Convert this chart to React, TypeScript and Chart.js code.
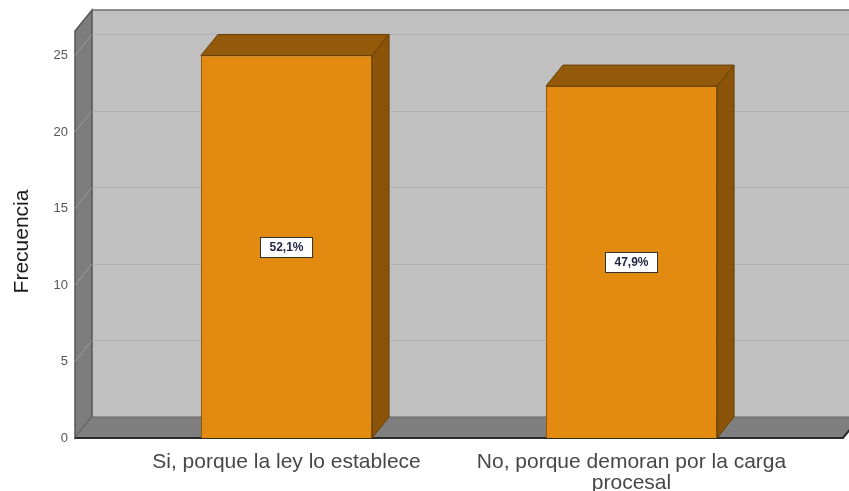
import React, { useEffect, useRef } from "react";
import { Chart, registerables } from "chart.js";

Chart.register(...registerables);

const categories: (string | string[])[] = [
  "Si, porque la ley lo establece",
  ["No, porque demoran por la carga", "procesal"],
];
const frequencies: number[] = [25, 23];
const yTicks: number[] = [0, 5, 10, 15, 20, 25];
const yMax = 26.6;
const yTitle = "Frecuencia";

const DX = 17;
const DY = 21;
const SIDE = 39;

const frame3d = {
  id: "frame3d",
  beforeDatasetsDraw(chart: any) {
    const { ctx, chartArea: ca, scales } = chart;
    const y = scales.y;
    const fl = ca.left - SIDE;
    const fr = ca.right + SIDE;
    const ft = ca.top;
    const fb = ca.bottom;
    ctx.save();
    ctx.fillStyle = "#c0c0c0";
    ctx.fillRect(fl + DX, ft - DY, fr - fl, fb - ft);
    ctx.strokeStyle = "#b2b2b2";
    ctx.lineWidth = 1;
    yTicks.forEach((v) => {
      if (v === 0) return;
      const py = Math.round(y.getPixelForValue(v) - DY) + 0.5;
      ctx.beginPath();
      ctx.moveTo(fl + DX, py);
      ctx.lineTo(fr + DX, py);
      ctx.stroke();
    });
    ctx.strokeStyle = "#6e6e6e";
    ctx.lineWidth = 1.5;
    ctx.beginPath();
    ctx.moveTo(fl + DX, ft - DY);
    ctx.lineTo(fr + DX, ft - DY);
    ctx.stroke();
    ctx.fillStyle = "#7c7c7c";
    ctx.beginPath();
    ctx.moveTo(fl, ft);
    ctx.lineTo(fl + DX, ft - DY);
    ctx.lineTo(fl + DX, fb - DY);
    ctx.lineTo(fl, fb);
    ctx.closePath();
    ctx.fill();
    ctx.strokeStyle = "#555555";
    ctx.lineWidth = 1.5;
    ctx.stroke();
    ctx.strokeStyle = "#9c9c9c";
    ctx.lineWidth = 1;
    yTicks.forEach((v) => {
      if (v === 0) return;
      const py = y.getPixelForValue(v);
      ctx.beginPath();
      ctx.moveTo(fl, py);
      ctx.lineTo(fl + DX, py - DY);
      ctx.stroke();
    });
    ctx.fillStyle = "#7f7f7f";
    ctx.beginPath();
    ctx.moveTo(fl, fb);
    ctx.lineTo(fl + DX, fb - DY);
    ctx.lineTo(fr + DX, fb - DY);
    ctx.lineTo(fr, fb);
    ctx.closePath();
    ctx.fill();
    ctx.strokeStyle = "#666666";
    ctx.lineWidth = 1;
    ctx.beginPath();
    ctx.moveTo(fl + DX, fb - DY);
    ctx.lineTo(fr + DX, fb - DY);
    ctx.stroke();
    ctx.strokeStyle = "#2a2a2a";
    ctx.lineWidth = 2;
    ctx.beginPath();
    ctx.moveTo(fl, fb);
    ctx.lineTo(fr, fb);
    ctx.lineTo(fr + DX, fb - DY);
    ctx.stroke();
    ctx.restore();
  },
  afterDatasetsDraw(chart: any) {
    const { ctx } = chart;
    const meta = chart.getDatasetMeta(0);
    const total = frequencies.reduce((a, b) => a + b, 0);
    ctx.save();
    meta.data.forEach((bar: any, i: number) => {
      const { x, y, base, width } = bar.getProps(["x", "y", "base", "width"], true);
      const l = x - width / 2;
      const r = x + width / 2;
      ctx.fillStyle = "#925a0a";
      ctx.strokeStyle = "#6a4005";
      ctx.lineWidth = 1;
      ctx.beginPath();
      ctx.moveTo(l, y);
      ctx.lineTo(l + DX, y - DY);
      ctx.lineTo(r + DX, y - DY);
      ctx.lineTo(r, y);
      ctx.closePath();
      ctx.fill();
      ctx.stroke();
      ctx.fillStyle = "#8a5308";
      ctx.beginPath();
      ctx.moveTo(r, y);
      ctx.lineTo(r + DX, y - DY);
      ctx.lineTo(r + DX, base - DY);
      ctx.lineTo(r, base);
      ctx.closePath();
      ctx.fill();
      ctx.stroke();
      const pct = ((frequencies[i] / total) * 100).toFixed(1).replace(".", ",") + "%";
      ctx.font = "bold 12px 'Liberation Sans', Arial, sans-serif";
      const tw = ctx.measureText(pct).width;
      const bw = tw + 18;
      const bh = 20;
      const cy = (y + base) / 2;
      const bx = Math.round(x - bw / 2) + 0.5;
      const by = Math.round(cy - bh / 2) + 0.5;
      ctx.fillStyle = "#ffffff";
      ctx.fillRect(bx, by, bw, bh);
      ctx.strokeStyle = "#333333";
      ctx.lineWidth = 1;
      ctx.strokeRect(bx, by, bw, bh);
      ctx.fillStyle = "#1e2540";
      ctx.textAlign = "center";
      ctx.textBaseline = "middle";
      ctx.fillText(pct, x, cy + 0.5);
    });
    ctx.restore();
  },
  afterDraw(chart: any) {
    const { ctx, chartArea: ca } = chart;
    ctx.save();
    ctx.translate(22, (ca.top + ca.bottom) / 2 + 7);
    ctx.rotate(-Math.PI / 2);
    ctx.font = "21px 'Liberation Sans', Arial, sans-serif";
    ctx.fillStyle = "#1a1a1a";
    ctx.textAlign = "center";
    ctx.textBaseline = "middle";
    ctx.fillText(yTitle, 0, 0);
    ctx.restore();
  },
};

export default function App() {
  const ref = useRef<HTMLCanvasElement | null>(null);
  useEffect(() => {
    if (!ref.current) return;
    const chart = new Chart(ref.current, {
      type: "bar",
      data: {
        labels: categories,
        datasets: [
          {
            data: frequencies,
            backgroundColor: "#e38b10",
            borderColor: "#8a5308",
            borderWidth: 1,
            barPercentage: 0.496,
            categoryPercentage: 1,
          },
        ],
      },
      options: {
        animation: false,
        responsive: false,
        maintainAspectRatio: false,
        layout: { padding: { top: 31, right: 45, left: 0, bottom: 0 } },
        plugins: { legend: { display: false }, tooltip: { enabled: false } },
        scales: {
          x: {
            offset: true,
            grid: { display: false, drawTicks: false },
            border: { display: false },
            ticks: {
              color: "#474747",
              font: { family: "'Liberation Sans', Arial, sans-serif", size: 21, lineHeight: 0.98 },
              padding: 14,
              maxRotation: 0,
              autoSkip: false,
            },
            afterFit: (s: any) => {
              s.height = 53;
            },
          },
          y: {
            min: 0,
            max: yMax,
            grid: { display: false, drawTicks: false },
            border: { display: false },
            afterBuildTicks: (s: any) => {
              s.ticks = yTicks.map((v) => ({ value: v }));
            },
            ticks: {
              color: "#555555",
              font: { family: "'Liberation Sans', Arial, sans-serif", size: 13 },
              padding: 46,
              includeBounds: false,
            },
            afterFit: (s: any) => {
              s.width = 114;
              s.paddingTop = 0;
              s.paddingBottom = 0;
            },
          },
        },
      },
      plugins: [frame3d],
    });
    return () => chart.destroy();
  }, []);
  return (
    <div style={{ position: "fixed", left: 0, top: 0, width: 849, height: 491, background: "#fff" }}>
      <canvas ref={ref} width={849} height={491} style={{ width: 849, height: 491 }} />
    </div>
  );
}
